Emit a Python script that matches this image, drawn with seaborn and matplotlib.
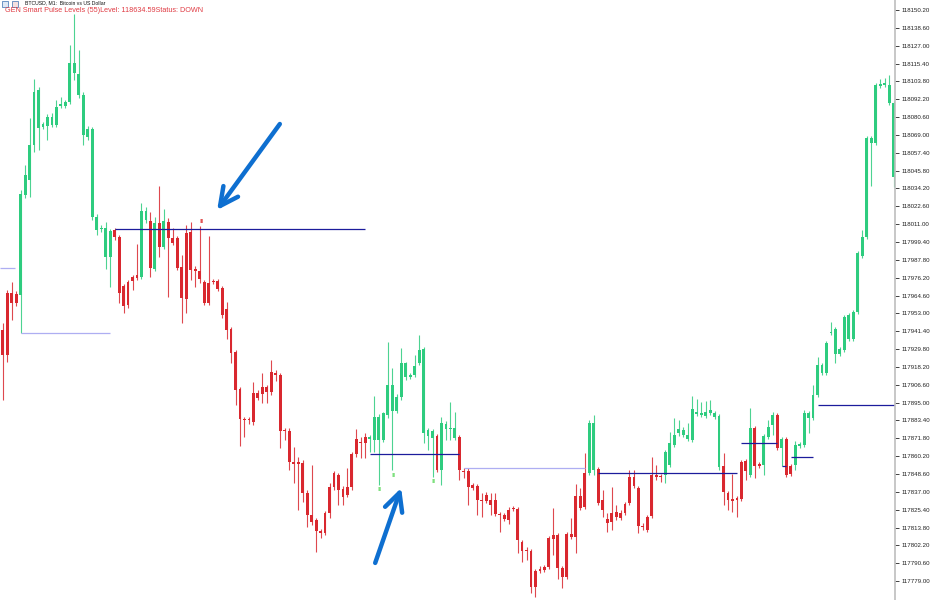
import seaborn as sns
import matplotlib.pyplot as plt
import pandas as pd
import numpy as np

# BTCUSD M1 candles (one value per bar)
opens = [117942.2, 117966.3, 117966.3, 117965.6, 117965.0, 118030.0, 118039.7, 118062.5, 118073.5, 118074.2,
         118074.8, 118075.5, 118075.5, 118087.8, 118087.8, 118090.4, 118109.3, 118095.0, 118069.0, 118067.7,
         118015.7, 118007.2, 118007.9, 117989.7, 117989.7, 118007.2, 118002.7, 117970.8, 117973.4, 117976.7,
         117978.0, 117976.7, 118013.7, 118013.1, 117981.9, 118011.8, 117996.2, 118012.4, 118002.0, 118002.0,
         117983.2, 118005.3, 118005.9, 117981.9, 117980.6, 117973.4, 117972.8, 117974.1, 117974.1, 117969.5,
         117955.9, 117942.9, 117927.9, 117903.9, 117884.4, 117884.4, 117901.3, 117901.3, 117905.2, 117905.2,
         117914.9, 117914.3, 117913.0, 117877.2, 117876.6, 117856.4, 117856.4, 117855.8, 117836.3, 117822.0,
         117818.7, 117811.6, 117823.3, 117840.2, 117849.3, 117848.0, 117838.9, 117840.2, 117861.6, 117871.4,
         117869.4, 117872.7, 117871.4, 117870.7, 117870.7, 117870.7, 117887.0, 117889.6, 117889.6, 117898.7,
         117911.7, 117911.7, 117913.0, 117920.8, 117875.3, 117873.3, 117872.0, 117873.3, 117851.2, 117877.9,
         117877.9, 117872.0, 117872.7, 117850.6, 117850.6, 117841.5, 117840.8, 117831.7, 117835.0, 117831.7,
         117831.7, 117822.6, 117822.0, 117825.2, 117826.5, 117825.9, 117804.4, 117799.2, 117798.6, 117785.6,
         117786.9, 117788.2, 117807.0, 117809.0, 117809.0, 117787.5, 117809.6, 117809.6, 117834.3, 117834.3,
         117849.3, 117849.3, 117851.2, 117851.9, 117831.7, 117819.4, 117823.3, 117823.9, 117823.3, 117829.1,
         117846.7, 117846.7, 117839.5, 117814.8, 117820.7, 117848.0, 117848.0, 117847.3, 117848.0, 117854.5,
         117867.5, 117875.3, 117874.0, 117871.4, 117870.7, 117887.6, 117887.0, 117886.3, 117888.3, 117885.7,
         117853.2, 117853.8, 117836.3, 117832.4, 117833.0, 117856.4, 117857.1, 117848.0, 117878.5, 117855.1,
         117854.5, 117872.7, 117880.5, 117887.0, 117865.5, 117871.4, 117853.8, 117854.5, 117866.8, 117867.5,
         117885.0, 117885.0, 117900.0, 117914.3, 117914.3, 117940.3, 117926.6, 117926.6, 117929.2, 117936.4,
         117936.4, 117953.9, 117990.3, 118002.7, 118063.8, 118063.8, 118100.8, 118101.5, 118089.8, 118041.7]

highs = [117946.8, 117968.2, 117973.4, 117967.6, 118033.2, 118049.5, 118080.0, 118105.4, 118100.2, 118077.4,
         118082.6, 118083.3, 118091.7, 118093.7, 118091.7, 118127.5, 118147.6, 118124.2, 118096.9, 118074.8,
         118074.2, 118017.6, 118010.5, 118012.4, 118007.9, 118008.5, 118004.0, 117972.1, 117974.7, 117978.0,
         117998.1, 118024.8, 118022.2, 118018.9, 118015.7, 118035.8, 118020.9, 118015.0, 118008.5, 118003.3,
         117991.0, 118010.5, 118012.4, 117983.8, 118010.0, 117974.7, 118003.3, 117975.4, 117975.4, 117970.8,
         117960.4, 117944.2, 117929.2, 117905.2, 117885.7, 117885.7, 117908.4, 117903.2, 117914.3, 117906.5,
         117922.7, 117916.2, 117914.3, 117878.5, 117878.5, 117866.2, 117859.7, 117857.7, 117838.2, 117854.5,
         117820.0, 117812.9, 117824.6, 117842.8, 117850.6, 117849.3, 117840.8, 117852.5, 117862.9, 117877.9,
         117872.7, 117875.3, 117874.0, 117899.3, 117887.6, 117888.9, 117934.4, 117917.5, 117900.6, 117930.5,
         117921.4, 117914.3, 117926.0, 117939.0, 117931.2, 117878.5, 117877.9, 117874.6, 117885.7, 117883.1,
         117895.4, 117888.9, 117874.0, 117852.5, 117852.5, 117842.8, 117842.1, 117836.3, 117836.9, 117836.3,
         117836.3, 117823.9, 117823.3, 117827.2, 117827.8, 117827.2, 117805.7, 117801.2, 117799.9, 117786.9,
         117788.8, 117789.5, 117808.3, 117826.5, 117810.3, 117788.8, 117810.9, 117820.0, 117842.1, 117839.5,
         117862.3, 117883.7, 117887.0, 117853.2, 117838.2, 117823.3, 117840.2, 117828.5, 117825.2, 117830.4,
         117851.2, 117851.2, 117840.8, 117816.8, 117822.0, 117859.7, 117854.5, 117848.6, 117864.2, 117875.9,
         117885.0, 117883.7, 117879.2, 117881.8, 117899.3, 117897.4, 117895.4, 117896.1, 117896.7, 117889.6,
         117887.6, 117862.3, 117837.6, 117848.6, 117834.3, 117857.7, 117858.4, 117891.5, 117879.8, 117856.4,
         117874.6, 117883.7, 117888.9, 117888.3, 117872.7, 117872.7, 117855.1, 117870.1, 117869.4, 117890.2,
         117889.6, 117906.5, 117924.7, 117920.8, 117935.1, 117947.4, 117944.2, 117931.2, 117952.0, 117953.3,
         117955.2, 117993.6, 118007.2, 118068.3, 118068.3, 118102.8, 118105.4, 118106.0, 118108.0, 118091.1]

lows = [117896.7, 117921.4, 117948.7, 117957.8, 117940.3, 118028.0, 118028.7, 118057.9, 118059.2, 118072.9,
        118065.7, 118074.2, 118074.2, 118086.5, 118086.5, 118089.1, 118104.7, 118093.0, 118062.5, 118065.7,
        118013.7, 118004.0, 118005.9, 117981.9, 117970.2, 118000.7, 117959.8, 117953.3, 117956.5, 117968.2,
        117974.7, 117975.4, 118011.8, 117976.7, 117980.6, 117989.7, 117994.9, 117963.7, 117997.5, 117981.2,
        117946.8, 117953.3, 117974.7, 117970.2, 117972.8, 117958.5, 117958.5, 117972.1, 117967.6, 117950.0,
        117936.4, 117920.8, 117893.5, 117866.8, 117872.7, 117881.1, 117880.5, 117896.7, 117894.8, 117894.8,
        117900.0, 117909.1, 117865.5, 117870.7, 117851.2, 117842.8, 117825.2, 117830.4, 117814.2, 117815.5,
        117797.9, 117807.0, 117809.0, 117820.0, 117838.2, 117828.5, 117828.5, 117833.7, 117838.2, 117859.7,
        117859.0, 117859.0, 117862.9, 117862.9, 117841.5, 117869.4, 117885.0, 117851.2, 117888.3, 117896.7,
        117909.7, 117910.4, 117911.7, 117919.5, 117868.8, 117864.2, 117846.7, 117849.9, 117841.5, 117870.7,
        117870.7, 117870.7, 117844.7, 117846.0, 117828.5, 117838.2, 117822.0, 117820.7, 117829.8, 117822.0,
        117821.3, 117810.9, 117818.1, 117816.1, 117824.6, 117797.3, 117791.4, 117792.7, 117771.3, 117768.7,
        117784.3, 117784.9, 117786.9, 117796.0, 117780.4, 117774.5, 117780.4, 117806.4, 117797.3, 117825.2,
        117825.9, 117848.0, 117848.0, 117828.5, 117820.7, 117810.9, 117812.2, 117818.7, 117818.7, 117822.0,
        117828.5, 117839.5, 117810.3, 117812.2, 117810.9, 117820.0, 117844.7, 117843.4, 117842.8, 117853.2,
        117866.2, 117873.3, 117872.7, 117870.1, 117869.4, 117886.3, 117885.7, 117885.0, 117887.0, 117884.4,
        117851.2, 117828.5, 117825.2, 117823.9, 117820.7, 117831.1, 117844.7, 117846.7, 117846.0, 117852.5,
        117848.0, 117871.4, 117874.0, 117864.2, 117853.8, 117846.7, 117847.3, 117851.2, 117865.5, 117866.2,
        117875.3, 117883.7, 117898.7, 117913.0, 117913.0, 117939.0, 117920.8, 117925.3, 117927.9, 117935.1,
        117935.1, 117952.6, 117989.0, 118001.4, 118035.8, 118062.5, 118099.5, 118100.2, 118088.5, 118035.2]

closes = [117926.0, 117926.0, 117959.8, 117959.8, 118030.6, 118043.0, 118062.5, 118096.9, 118098.2, 118076.1,
          118080.7, 118080.7, 118087.2, 118089.1, 118090.4, 118115.8, 118115.8, 118108.6, 118095.0, 118072.9,
          118072.9, 118015.7, 118008.5, 118008.5, 118006.6, 118002.7, 117966.3, 117957.8, 117958.5, 117974.1,
          117976.0, 118019.6, 118019.6, 117982.5, 118011.8, 117996.2, 118013.1, 118002.0, 117998.8, 117982.5,
          117963.0, 117962.4, 117981.2, 117980.6, 117975.4, 117959.8, 117959.8, 117973.4, 117968.9, 117952.0,
          117942.2, 117927.3, 117903.2, 117884.4, 117883.7, 117883.7, 117882.4, 117898.0, 117900.6, 117901.9,
          117901.9, 117913.0, 117876.6, 117876.6, 117856.4, 117855.1, 117855.1, 117836.3, 117822.0, 117817.4,
          117811.6, 117810.3, 117810.3, 117823.3, 117840.2, 117838.2, 117833.7, 117835.0, 117840.2, 117861.6,
          117868.8, 117868.8, 117872.7, 117885.7, 117885.7, 117888.3, 117906.5, 117906.5, 117898.7, 117920.8,
          117920.8, 117913.0, 117918.8, 117929.2, 117929.9, 117877.2, 117876.6, 117851.2, 117881.8, 117881.1,
          117878.5, 117878.5, 117851.2, 117849.9, 117840.2, 117839.5, 117831.7, 117831.1, 117831.1, 117828.5,
          117822.6, 117822.0, 117819.4, 117818.7, 117825.9, 117805.7, 117798.6, 117798.6, 117775.2, 117775.2,
          117785.6, 117786.2, 117788.2, 117806.4, 117787.5, 117781.7, 117781.7, 117807.7, 117807.7, 117826.5,
          117827.2, 117881.8, 117881.8, 117829.8, 117825.2, 117816.8, 117817.4, 117820.7, 117820.0, 117823.3,
          117829.8, 117840.8, 117814.8, 117814.2, 117812.2, 117821.3, 117846.7, 117846.7, 117862.9, 117868.8,
          117874.0, 117877.9, 117877.2, 117874.0, 117890.9, 117888.9, 117888.3, 117888.9, 117890.2, 117888.3,
          117886.3, 117836.9, 117831.7, 117831.1, 117831.7, 117832.4, 117850.6, 117878.5, 117853.8, 117853.8,
          117873.3, 117879.2, 117887.0, 117865.5, 117871.4, 117848.0, 117848.6, 117867.5, 117868.1, 117888.3,
          117888.3, 117900.0, 117919.5, 117919.5, 117933.8, 117940.9, 117942.9, 117929.9, 117950.7, 117952.0,
          117953.9, 117992.3, 118002.7, 118067.0, 118067.0, 118101.5, 118102.1, 118102.8, 118101.5, 118089.8]

# price scale labels on the right
tick_labels = ["118150.20", "118138.60", "118127.00", "118115.40", "118103.80", "118092.20", "118080.60",
               "118069.00", "118057.40", "118045.80", "118034.20", "118022.60", "118011.00", "117999.40",
               "117987.80", "117976.20", "117964.60", "117953.00", "117941.40", "117929.80", "117918.20",
               "117906.60", "117895.00", "117883.40", "117871.80", "117860.20", "117848.60", "117837.00",
               "117825.40", "117813.80", "117802.20", "117790.60", "117779.00"]

# indicator levels (bar index from / to, price, kind)
level_from = [-0.6, 4, 25, 82, 103, 133, 165, 174, 176, 182]
level_to = [2.8, 24, 81, 102, 130, 164, 173, 175, 181, 199.4]
level_price = [117982.5, 117940.3, 118007.9, 117861.6, 117852.5, 117849.3, 117868.8, 117853.8, 117859.7, 117893.5]
level_kind = ["old", "old", "active", "active", "old", "active", "active", "active", "active", "active"]

up_signals = [84, 87, 96]
down_signals = [44]

# hand drawn blue arrows (tail -> tip, bar index / price)
arrow_tail = [(61.9, 118076.1), (83.2, 117790.8)]
arrow_tip = [(47.9, 118020.2), (89.0, 117839.5)]

GREEN = "#2ecc7f"
RED = "#d9282f"


def get_data():
    df = pd.DataFrame({"Open": opens, "High": highs, "Low": lows, "Close": closes})
    df["Bar"] = np.arange(len(df))
    df["Color"] = np.where(df["Close"] >= df["Open"], GREEN, RED)
    return df


def get_plot(df):
    sns.set_style("white")
    plt.rcParams["font.family"] = ["Liberation Sans", "DejaVu Sans"]

    fig = plt.figure(figsize=(9.31, 6.0), dpi=100)
    ax = fig.add_axes([0, 0, 895 / 931, 1])

    # wicks
    ax.vlines(df["Bar"], df["Low"], df["High"], colors=df["Color"], linewidth=0.8, alpha=0.85)
    # bodies
    body_low = df[["Open", "Close"]].min(axis=1)
    body_h = (df["Open"] - df["Close"]).abs().clip(lower=0.7)
    ax.bar(df["Bar"], body_h, bottom=body_low, width=0.64, color=df["Color"], linewidth=0)

    # levels
    for x0, x1, p, k in zip(level_from, level_to, level_price, level_kind):
        c = "#1c1c9c" if k == "active" else "#aeaef2"
        ax.hlines(p, x0, x1, colors=c, linewidth=0.9)

    # signal marks
    for i in up_signals:
        ax.text(i + 0.3, lows[i] - 1.0, "ıı", color="#7be07b", fontsize=5.5, ha="center", va="top",
                fontweight="bold")
    for i in down_signals:
        ax.text(i + 0.4, highs[i] + 0.6, "ıı", color="#e05050", fontsize=5.5, ha="center", va="bottom",
                fontweight="bold")

    for tail, tip in zip(arrow_tail, arrow_tip):
        ax.annotate("", xy=tip, xytext=tail,
                    arrowprops=dict(arrowstyle="->,head_length=1.3,head_width=0.65", lw=3.2,
                                    color="#0e6fd0", shrinkA=0, shrinkB=0))

    ax.set_xlim(-0.6, 199.3)
    ax.set_ylim(117766.7, 118156.7)

    tick_vals = [float(t) for t in tick_labels]
    ax.yaxis.tick_right()
    ax.set_yticks(tick_vals)
    ax.set_yticklabels(tick_labels)
    ax.tick_params(axis="y", direction="out", length=3, width=0.6, pad=1.5, labelsize=4.4,
                   colors="#222222", right=True, left=False)
    ax.set_xticks([])
    for s in ["left", "top", "bottom"]:
        ax.spines[s].set_visible(False)
    ax.spines["right"].set_color("#bdbdbd")
    ax.spines["right"].set_linewidth(1.2)

    fig.text(25 / 931, 1 - 3 / 600, "BTCUSD, M1:  Bitcoin vs US Dollar", fontsize=3.7, color="#111111",
             ha="left", va="center")
    fig.text(5 / 931, 1 - 10.5 / 600, "GEN Smart Pulse Levels (55)Level: 118634.59Status: DOWN",
             fontsize=5.25, color="#e03c44", ha="left", va="center")
    fig.patches.append(plt.Rectangle((2 / 931, 1 - 7 / 600), 6 / 931, 6 / 600, transform=fig.transFigure,
                                     facecolor="#dfe9f5", edgecolor="#3a6fb0", linewidth=0.5))
    fig.patches.append(plt.Rectangle((12 / 931, 1 - 7 / 600), 6 / 931, 6 / 600, transform=fig.transFigure,
                                     facecolor="#f5e0e0", edgecolor="#3a6fb0", linewidth=0.5))

    plt.savefig("out.png", dpi=100)


if __name__ == "__main__":
    df = get_data()
    get_plot(df)
